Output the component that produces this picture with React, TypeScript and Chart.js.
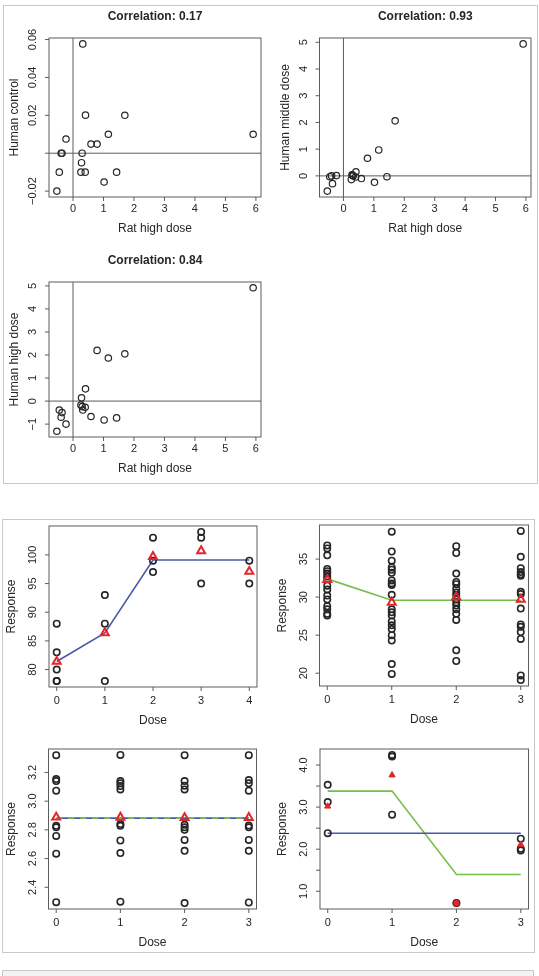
import { useEffect, useRef } from "react";
import { Chart, registerables } from "chart.js";

Chart.register(...registerables);

const FONT = '"Liberation Sans", Arial, Helvetica, sans-serif';
const INK = "#262626";
const FRAME = "#5c5c5c";
const RED = "#e2262c";
const BLUE = "#4a58a8";
const GREEN = "#74bf4c";

// ---- Rat vs human comparisons ----
const ratHighDose = [5.91, 1.7, 1.16, 0.79, 0.59, 1.43, 1.02, 0.41, 0.4, 0.32, 0.3, 0.28, 0.26, -0.23, -0.39, -0.36, -0.45, -0.53];
const humanControl = [0.01, 0.02, 0.01, 0.0048, 0.0048, -0.01, -0.0152, 0.0201, -0.01, 0.0577, 0, -0.005, -0.01, 0.0075, 0, 0, -0.01, -0.02];
const humanMiddleDose = [4.94, 2.06, 0.97, 0.66, -0.1, -0.03, -0.24, 0.15, -0.04, 0, 0.02, 0.04, -0.14, 0.01, 0, -0.29, -0.03, -0.57];
const humanHighDose = [4.92, 2.05, 1.87, 2.2, -0.67, -0.73, -0.82, 0.53, -0.27, -0.39, -0.24, 0.14, -0.17, -1.0, -0.7, -0.5, -0.39, -1.31];
const ratTicks = [0, 1, 2, 3, 4, 5, 6];
const controlTicks = [-0.02, 0, 0.02, 0.04, 0.06];
const controlTickLabels = ["\u22120.02", "", "0.02", "0.04", "0.06"];
const middleTicks = [0, 1, 2, 3, 4, 5];
const highTicks = [-1, 0, 1, 2, 3, 4, 5];
const highTickLabels = ["\u22121", "0", "1", "2", "3", "4", "5"];

// ---- Dose-response panels ----
const doseA = [0, 0, 0, 0, 0, 1, 1, 1, 2, 2, 2, 3, 3, 3, 4, 4];
const responseA = [88, 83, 80, 78, 78, 93, 88, 78, 103, 99, 97, 104, 103, 95, 99, 95];
const levelsA = [0, 1, 2, 3, 4];
const meansA = [81.4, 86.4, 99.7, 100.7, 97.1];
const fitA = [81.4, 86.4, 99.1, 99.1, 99.1];
const yTicksA = [80, 85, 90, 95, 100];

const responseB0 = [36.8, 36.4, 35.5, 33.7, 33.4, 33.1, 32.7, 32.4, 31.5, 31.0, 30.2, 29.7, 28.8, 28.4, 27.8, 27.6];
const responseB1 = [38.6, 36.0, 34.8, 33.9, 33.6, 33.2, 32.2, 31.8, 31.6, 30.3, 28.4, 28.0, 27.6, 26.8, 26.3, 25.8, 25.0, 24.3, 21.2, 19.9];
const responseB2 = [36.7, 35.8, 33.1, 32.0, 31.7, 31.1, 30.6, 30.2, 29.7, 29.3, 28.9, 28.4, 27.8, 27.0, 23.0, 21.6];
const responseB3 = [38.7, 35.3, 33.8, 33.3, 33.0, 32.8, 30.7, 30.4, 28.5, 26.4, 26.1, 25.4, 24.5, 19.7, 19.1];
const levelsB = [0, 1, 2, 3];
const meansB = [32.3, 29.3, 30.0, 29.7];
const fitB = [32.4, 29.6, 29.6, 29.6];
const yTicksB = [20, 25, 30, 35];

const responseC0 = [3.32, 3.154, 3.14, 3.073, 2.828, 2.818, 2.758, 2.634, 2.296];
const responseC1 = [3.322, 3.14, 3.124, 3.105, 3.082, 2.84, 2.828, 2.726, 2.638, 2.3];
const responseC2 = [3.32, 3.14, 3.108, 3.082, 2.835, 2.818, 2.8, 2.73, 2.654, 2.29];
const responseC3 = [3.32, 3.147, 3.124, 3.073, 2.83, 2.818, 2.73, 2.654, 2.294];
const meansC = [2.888, 2.887, 2.884, 2.885];
const fitC = [2.882, 2.882, 2.882, 2.882];
const yTicksC = [2.4, 2.6, 2.8, 3.0, 3.2];
const yTickLabelsC = ["2.4", "2.6", "2.8", "3.0", "3.2"];

const responseD0 = [3.53, 3.12, 2.38];
const responseD1 = [4.24, 4.2, 2.82];
const responseD2 = [0.72];
const responseD3 = [2.25, 2.01, 1.97];
const meansD = [3.02, 3.76, 0.72, 2.11];
const flatFitD = [2.38, 2.38, 2.38, 2.38];
const stepFitD = [3.38, 3.38, 1.4, 1.4];
const yTicksD = [1.0, 1.5, 2.0, 2.5, 3.0, 3.5, 4.0];
const yTickLabelsD = ["1.0", "", "2.0", "", "3.0", "", "4.0"];

type Pt = { x: number; y: number };
type Box = { l: number; t: number; r: number; b: number };
type Spec = {
  canvas: Box;
  box: Box;
  title?: string;
  xLabel: string;
  yLabel: string;
  xTicks: number[];
  yTicks: number[];
  yTickLabels?: string[];
  xRange: [number, number];
  yRange: [number, number];
  refLines?: boolean;
  tickGap: number;
  xTitleGap: number;
  yTitleGap: number;
  datasets: any[];
};

const rRange = (v: number[]): [number, number] => {
  const lo = Math.min(...v);
  const hi = Math.max(...v);
  const pad = (hi - lo) * 0.04;
  return [lo - pad, hi + pad];
};

const zip = (xs: number[], ys: number[]): Pt[] => xs.map((x, i) => ({ x, y: ys[i] }));
const groups = (gs: number[][]): Pt[] => gs.flatMap((g, d) => g.map((y) => ({ x: d, y })));

const circles = (data: Pt[], width = 1.2) => ({
  data,
  pointStyle: "circle",
  pointRadius: 3.2,
  borderWidth: width,
  borderColor: INK,
  backgroundColor: "rgba(0,0,0,0)",
  showLine: false,
  order: 2,
});

const triangles = (data: Pt[]) => ({
  data,
  pointStyle: "triangle",
  pointRadius: 4.6,
  borderWidth: 2,
  borderColor: RED,
  backgroundColor: "rgba(0,0,0,0)",
  showLine: false,
  order: 0,
});

const line = (data: Pt[], color: string, order: number, dash: number[] = []) => ({
  data,
  showLine: true,
  pointRadius: 0,
  borderColor: color,
  borderWidth: 1.6,
  borderDash: dash,
  tension: 0,
  fill: false,
  order,
});

const fmt = (v: number) => (v < 0 ? "\u2212" + String(-v) : String(v));

function framePlugin(spec: Spec) {
  return {
    id: "rFrame",
    beforeDatasetsDraw(chart: any) {
      if (!spec.refLines) return;
      const { ctx, chartArea: a, scales } = chart;
      const px = scales.x.getPixelForValue(0);
      const py = scales.y.getPixelForValue(0);
      ctx.save();
      ctx.strokeStyle = FRAME;
      ctx.lineWidth = 1;
      ctx.beginPath();
      ctx.moveTo(px, a.top);
      ctx.lineTo(px, a.bottom);
      ctx.moveTo(a.left, py);
      ctx.lineTo(a.right, py);
      ctx.stroke();
      ctx.restore();
    },
    afterDraw(chart: any) {
      const { ctx, chartArea: a, scales } = chart;
      ctx.save();
      ctx.strokeStyle = FRAME;
      ctx.lineWidth = 1;
      ctx.strokeRect(a.left, a.top, a.right - a.left, a.bottom - a.top);

      ctx.fillStyle = INK;
      ctx.textAlign = "center";
      ctx.textBaseline = "middle";
      ctx.font = `11px ${FONT}`;

      // x axis ticks and labels
      ctx.beginPath();
      spec.xTicks.forEach((v) => {
        const px = scales.x.getPixelForValue(v);
        ctx.moveTo(px, a.bottom);
        ctx.lineTo(px, a.bottom + 4);
      });
      spec.yTicks.forEach((v) => {
        const py = scales.y.getPixelForValue(v);
        ctx.moveTo(a.left - 4, py);
        ctx.lineTo(a.left, py);
      });
      ctx.stroke();

      spec.xTicks.forEach((v) => {
        ctx.fillText(fmt(v), scales.x.getPixelForValue(v), a.bottom + spec.tickGap);
      });
      spec.yTicks.forEach((v, i) => {
        const label = spec.yTickLabels ? spec.yTickLabels[i] : fmt(v);
        if (!label) return;
        ctx.save();
        ctx.translate(a.left - 16, scales.y.getPixelForValue(v));
        ctx.rotate(-Math.PI / 2);
        ctx.fillText(label, 0, 0);
        ctx.restore();
      });

      // axis titles
      ctx.font = `12px ${FONT}`;
      const cx = (a.left + a.right) / 2;
      const cy = (a.top + a.bottom) / 2;
      ctx.fillText(spec.xLabel, cx, a.bottom + spec.xTitleGap);
      ctx.save();
      ctx.translate(a.left - spec.yTitleGap, cy);
      ctx.rotate(-Math.PI / 2);
      ctx.fillText(spec.yLabel, 0, 0);
      ctx.restore();

      if (spec.title) {
        ctx.font = `bold 12px ${FONT}`;
        ctx.fillText(spec.title, cx, a.top - 21);
      }
      ctx.restore();
    },
  };
}

function RPlot({ spec }: { spec: Spec }) {
  const ref = useRef<HTMLCanvasElement>(null);
  useEffect(() => {
    const c = spec.canvas;
    const b = spec.box;
    const chart = new Chart(ref.current as HTMLCanvasElement, {
      type: "scatter",
      data: { datasets: spec.datasets },
      options: {
        animation: false,
        responsive: false,
        events: [],
        layout: {
          padding: { left: b.l - c.l, top: b.t - c.t, right: c.r - b.r, bottom: c.b - b.b },
        },
        plugins: { legend: { display: false }, tooltip: { enabled: false }, title: { display: false } },
        scales: {
          x: { type: "linear", display: false, min: spec.xRange[0], max: spec.xRange[1] },
          y: { type: "linear", display: false, min: spec.yRange[0], max: spec.yRange[1] },
        },
        datasets: { scatter: { clip: false } as any },
      } as any,
      plugins: [framePlugin(spec)],
    });
    return () => chart.destroy();
  }, [spec]);
  const c = spec.canvas;
  return (
    <canvas
      ref={ref}
      width={c.r - c.l}
      height={c.b - c.t}
      style={{ position: "absolute", left: c.l, top: c.t, width: c.r - c.l, height: c.b - c.t }}
    />
  );
}

const topGaps = { tickGap: 12, xTitleGap: 31.5, yTitleGap: 34 };
const bottomGaps = { tickGap: 14, xTitleGap: 33.5, yTitleGap: 37 };

const pointsB = [responseB0, responseB1, responseB2, responseB3];
const pointsC = [responseC0, responseC1, responseC2, responseC3];
const pointsD = [responseD0, responseD1, responseD2, responseD3];

const specs: Spec[] = [
  {
    canvas: { l: 0, t: 0, r: 270, b: 240 },
    box: { l: 49, t: 38, r: 261, b: 197 },
    title: "Correlation: 0.17",
    xLabel: "Rat high dose",
    yLabel: "Human control",
    xTicks: ratTicks,
    yTicks: controlTicks,
    yTickLabels: controlTickLabels,
    xRange: rRange(ratHighDose),
    yRange: rRange(humanControl),
    refLines: true,
    ...topGaps,
    datasets: [circles(zip(ratHighDose, humanControl))],
  },
  {
    canvas: { l: 270, t: 0, r: 539, b: 240 },
    box: { l: 319.5, t: 38, r: 531, b: 197 },
    title: "Correlation: 0.93",
    xLabel: "Rat high dose",
    yLabel: "Human middle dose",
    xTicks: ratTicks,
    yTicks: middleTicks,
    xRange: rRange(ratHighDose),
    yRange: rRange(humanMiddleDose),
    refLines: true,
    ...topGaps,
    datasets: [circles(zip(ratHighDose, humanMiddleDose))],
  },
  {
    canvas: { l: 0, t: 240, r: 270, b: 482 },
    box: { l: 49, t: 282, r: 261, b: 437 },
    title: "Correlation: 0.84",
    xLabel: "Rat high dose",
    yLabel: "Human high dose",
    xTicks: ratTicks,
    yTicks: highTicks,
    yTickLabels: highTickLabels,
    xRange: rRange(ratHighDose),
    yRange: rRange(humanHighDose),
    refLines: true,
    ...topGaps,
    datasets: [circles(zip(ratHighDose, humanHighDose))],
  },
  {
    canvas: { l: 0, t: 500, r: 270, b: 735 },
    box: { l: 49, t: 526, r: 257, b: 687 },
    xLabel: "Dose",
    yLabel: "Response",
    xTicks: levelsA,
    yTicks: yTicksA,
    xRange: rRange(doseA),
    yRange: rRange(responseA),
    ...bottomGaps,
    datasets: [
      triangles(zip(levelsA, meansA)),
      circles(zip(doseA, responseA), 1.6),
      line(zip(levelsA, fitA), BLUE, 3),
    ],
  },
  {
    canvas: { l: 270, t: 500, r: 539, b: 735 },
    box: { l: 319.5, t: 525, r: 528.5, b: 686 },
    xLabel: "Dose",
    yLabel: "Response",
    xTicks: levelsB,
    yTicks: yTicksB,
    xRange: rRange(levelsB),
    yRange: rRange(pointsB.flat()),
    ...bottomGaps,
    datasets: [
      triangles(zip(levelsB, meansB)),
      circles(groups(pointsB), 1.6),
      line(zip(levelsB, fitB), GREEN, 3),
    ],
  },
  {
    canvas: { l: 0, t: 735, r: 270, b: 955 },
    box: { l: 48.5, t: 749, r: 256.5, b: 909 },
    xLabel: "Dose",
    yLabel: "Response",
    xTicks: levelsB,
    yTicks: yTicksC,
    yTickLabels: yTickLabelsC,
    xRange: rRange(levelsB),
    yRange: rRange(pointsC.flat()),
    ...bottomGaps,
    datasets: [
      triangles(zip(levelsB, meansC)),
      circles(groups(pointsC), 1.6),
      line(zip(levelsB, fitC), GREEN, 3, [6, 6]),
      line(zip(levelsB, fitC), BLUE, 4),
    ],
  },
  {
    canvas: { l: 270, t: 735, r: 539, b: 955 },
    box: { l: 320, t: 749, r: 528.5, b: 909 },
    xLabel: "Dose",
    yLabel: "Response",
    xTicks: levelsB,
    yTicks: yTicksD,
    yTickLabels: yTickLabelsD,
    xRange: rRange(levelsB),
    yRange: rRange(pointsD.flat()),
    ...bottomGaps,
    datasets: [
      {
        ...triangles(zip(levelsB, meansD)),
        pointStyle: ["triangle", "triangle", "circle", "triangle"],
        pointRadius: [3.6, 3.6, 3.4, 3.6],
        borderWidth: 1,
        borderColor: [RED, RED, "#9a1a1e", RED],
        backgroundColor: RED,
      },
      circles(groups(pointsD), 1.6),
      line(zip(levelsB, flatFitD), BLUE, 3),
      line(zip(levelsB, stepFitD), GREEN, 3),
    ],
  },
];

const panel = (l: number, t: number, r: number, b: number, bg = "transparent") => (
  <div
    style={{
      position: "absolute",
      left: l,
      top: t,
      width: r - l,
      height: b - t,
      border: "1px solid #c8c8c8",
      boxSizing: "border-box",
      background: bg,
    }}
  />
);

export default function App() {
  return (
    <div style={{ position: "absolute", left: 0, top: 0, width: 539, height: 976, background: "#fff", overflow: "hidden" }}>
      {panel(3, 5, 538, 484)}
      {panel(2, 519, 535, 953)}
      {panel(2, 970, 534, 990, "#f3f3f3")}
      {specs.map((s, i) => (
        <RPlot key={i} spec={s} />
      ))}
    </div>
  );
}
